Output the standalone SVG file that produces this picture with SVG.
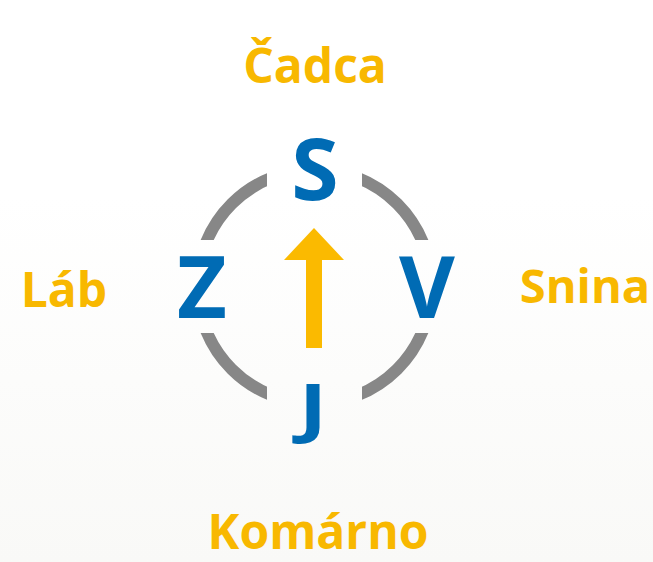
<svg xmlns="http://www.w3.org/2000/svg" width="653" height="562" viewBox="0 0 653 562">
  <style>
    .city { font-family: "Open Sans", "Liberation Sans", sans-serif; font-weight: 700; font-size: 48px; fill: #F8B800; text-anchor: middle; }
    .dir { font-family: "Open Sans", "Liberation Sans", sans-serif; font-weight: 700; font-size: 86px; fill: #006BB4; text-anchor: middle; }
    .ring { fill: none; stroke: #878787; stroke-width: 12; }
  </style>
  <defs>
    <linearGradient id="bg" x1="0" y1="0" x2="0" y2="1">
      <stop offset="0" stop-color="#ffffff"/>
      <stop offset="0.35" stop-color="#ffffff"/>
      <stop offset="1" stop-color="#f9f9f7"/>
    </linearGradient>
    <clipPath id="quadrants">
      <rect x="0" y="0" width="267" height="240"/>
      <rect x="362" y="0" width="291" height="240"/>
      <rect x="0" y="333" width="267" height="229"/>
      <rect x="362" y="333" width="291" height="229"/>
    </clipPath>
  </defs>
  <rect x="0" y="0" width="653" height="562" fill="url(#bg)"/>

  <g id="ring">
    <circle class="ring" cx="314.5" cy="286.5" r="117" clip-path="url(#quadrants)"/>
  </g>

  <g id="connectors">
    <path id="arrow" d="M306,348 L306,260 L284,260 L314,228 L344,260 L322,260 L322,348 Z" fill="#FBBA00"/>
  </g>

  <g id="dir-S"><text class="dir" x="315" y="200">S</text></g>
  <g id="dir-Z"><text class="dir" x="202" y="318">Z</text></g>
  <g id="dir-V"><text class="dir" x="427" y="318">V</text></g>
  <g id="dir-J"><text class="dir" transform="translate(313,430) scale(1,0.76)" x="0" y="0">J</text></g>

  <g id="city-north"><text class="city" x="315" y="83">Čadca</text></g>
  <g id="city-west"><text class="city" x="64" y="307">Láb</text></g>
  <g id="city-east"><text class="city" x="585" y="303" style="font-size:47px">Snina</text></g>
  <g id="city-south"><text class="city" x="318" y="549">Komárno</text></g>
</svg>
